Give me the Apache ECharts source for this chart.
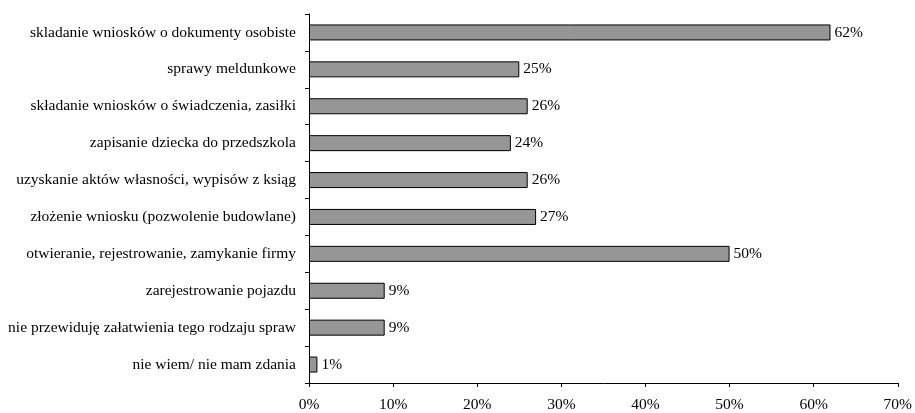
<!DOCTYPE html>
<html>
<head>
<meta charset="utf-8">
<script src="https://cdn.jsdelivr.net/npm/echarts@6/dist/echarts.min.js"></script>
<style>
  html, body { margin: 0; padding: 0; background: #fff; }
  #chart { width: 915px; height: 413px; }
</style>
</head>
<body>
<div id="chart"></div>
<script>
// kategorie od góry do dołu
var categories = [
    'skladanie wniosków o dokumenty osobiste',
    'sprawy meldunkowe',
    'składanie wniosków o świadczenia, zasiłki',
    'zapisanie dziecka do przedszkola',
    'uzyskanie aktów własności, wypisów z ksiąg',
    'złożenie wniosku (pozwolenie budowlane)',
    'otwieranie, rejestrowanie, zamykanie firmy',
    'zarejestrowanie pojazdu',
    'nie przewiduję załatwienia tego rodzaju spraw',
    'nie wiem/ nie mam zdania'
];
var values = [62, 25, 26, 24, 26, 27, 50, 9, 9, 1];
var xTicks = [0, 10, 20, 30, 40, 50, 60, 70];

var myChart = echarts.init(document.getElementById('chart'));
var font = 'Liberation Serif, Times New Roman, serif';

var option = {
    animation: false,
    grid: {
        left: 309,
        right: 15,
        top: 14,
        bottom: 29,
        containLabel: false
    },
    xAxis: {
        type: 'value',
        min: xTicks[0],
        max: xTicks[xTicks.length - 1],
        interval: 10,
        splitLine: { show: false },
        axisLine: { show: true, lineStyle: { color: '#000', width: 1 } },
        axisTick: { show: true, length: 4, lineStyle: { color: '#000' } },
        axisLabel: {
            formatter: '{value}%',
            color: '#000',
            fontFamily: font,
            fontSize: 15.5,
            margin: 14
        }
    },
    yAxis: {
        type: 'category',
        inverse: true,
        data: categories,
        axisLine: { show: true, lineStyle: { color: '#000', width: 1 } },
        axisTick: { show: true, length: 4, alignWithLabel: false, lineStyle: { color: '#000' } },
        axisLabel: {
            color: '#000',
            fontFamily: font,
            fontSize: 15.5,
            margin: 13
        }
    },
    series: [{
        type: 'bar',
        data: values,
        barWidth: 16,
        itemStyle: {
            color: '#969696',
            borderColor: '#000',
            borderWidth: 1
        },
        label: {
            show: true,
            position: 'right',
            distance: 4,
            formatter: '{c}%',
            color: '#000',
            fontFamily: font,
            fontSize: 15.5
        }
    }]
};

myChart.setOption(option);
</script>
</body>
</html>
